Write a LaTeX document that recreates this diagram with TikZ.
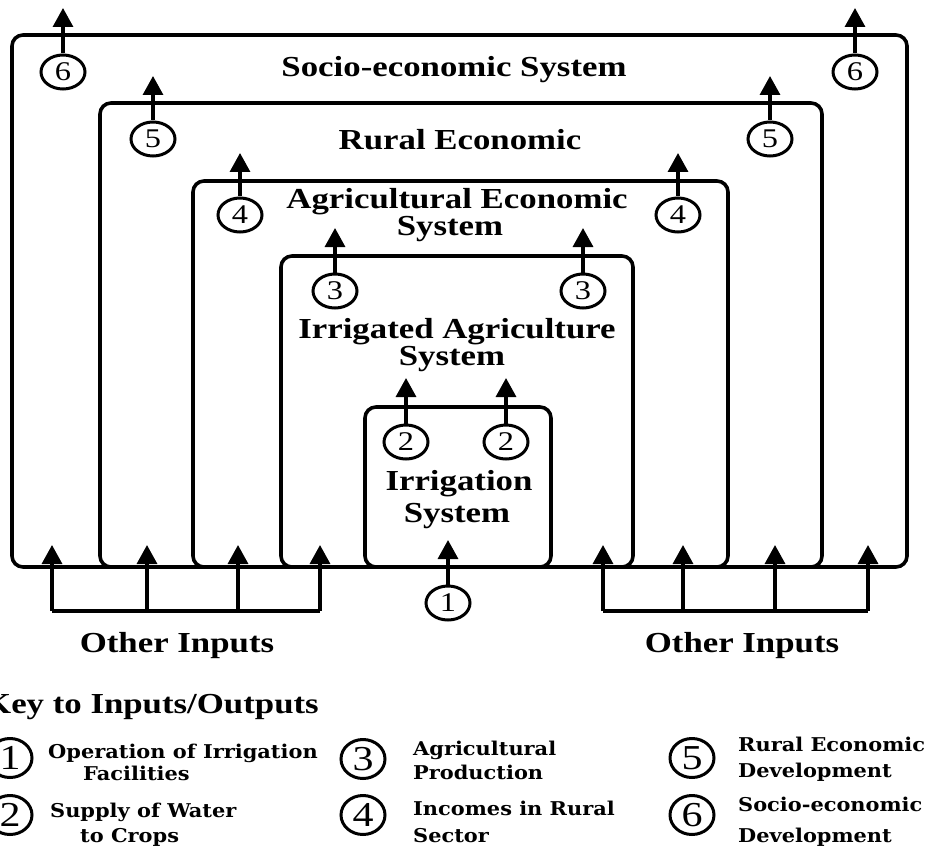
\documentclass[tikz,border=0pt]{standalone}
\usepackage{fontspec}
\setmainfont{Liberation Serif}
\newfontfamily\labfont[FakeStretch=1.2]{Liberation Serif}
\newfontfamily\keyfont[FakeStretch=1.1]{DejaVu Serif}
\usetikzlibrary{arrows.meta,shapes.geometric}

\begin{document}
\begin{tikzpicture}[x=1pt,y=-1pt,
  sysbox/.style={line width=3.6pt, rounded corners=11pt},
  numcirc/.style={ellipse, draw, line width=3pt, minimum width=44pt, minimum height=34pt,
    inner sep=0pt, font=\labfont\fontsize{27}{27}\selectfont},
  keycirc/.style={ellipse, draw, line width=3pt, minimum width=44pt, minimum height=39pt,
    inner sep=0pt, font=\labfont\fontsize{35}{35}\selectfont},
  flow/.style={line width=3.3pt, -{Triangle[width=20pt,length=19pt]}},
  feed/.style={line width=3.3pt, line cap=square},
  lab/.style={anchor=base, inner sep=0pt, font=\labfont\bfseries\fontsize{29}{34}\selectfont},
  keytext/.style={anchor=base west, inner sep=0pt, font=\keyfont\bfseries\fontsize{19}{22}\selectfont},
]
\useasboundingbox (0,0) rectangle (936,850);

% nested systems, all sharing the bottom edge
\draw[sysbox] (12,567) rectangle (907,35);
\draw[sysbox] (100,567) rectangle (822,103);
\draw[sysbox] (193,567) rectangle (728,181);
\draw[sysbox] (281,567) rectangle (633,256);
\draw[sysbox] (365,567) rectangle (551,407);

% outputs of each system
\foreach \n/\xa/\xb/\yc/\yt in {6/63/855/72/8, 5/153/770/139/76, 4/240/678/215/153,
                                 3/335/583/291/228, 2/406/506/442/378}{
  \node[numcirc] (o\n a) at (\xa,\yc) {\n};
  \node[numcirc] (o\n b) at (\xb,\yc) {\n};
  \coordinate (t\n a) at (\xa,\yt);
  \coordinate (t\n b) at (\xb,\yt);
  \draw[flow] (o\n a) -- (t\n a);
  \draw[flow] (o\n b) -- (t\n b);
}

% system labels
\node[lab] (l6)  at (454,77)  {Socio-economic System};
\node[lab] (l5)  at (460,150) {Rural Economic};
\node[lab] (l4a) at (457,209) {Agricultural Economic};
\node[lab] (l4b) at (450,236) {System};
\node[lab] (l3a) at (457,338) {Irrigated Agriculture};
\node[lab] (l3b) at (452,365) {System};
\node[lab] (l2a) at (459,490) {Irrigation};
\node[lab] (l2b) at (457,522) {System};

% input 1 to the irrigation system
\node[numcirc] (i1) at (448,603) {1};
\coordinate (ti1) at (448,540);
\draw[flow] (i1) -- (ti1);

% other inputs, left and right
\foreach \s/\xs in {L/{52,147,238,320}, R/{603,683,775,868}}{
  \foreach \x [count=\k] in \xs {
    \coordinate (b\s\k) at (\x,611);
    \coordinate (u\s\k) at (\x,545);
    \draw[flow] (b\s\k) -- (u\s\k);
  }
  \draw[feed] (b\s1) -- (b\s4);
}
\node[lab] (oiL) at (177,652) {Other Inputs};
\node[lab] (oiR) at (742,652) {Other Inputs};

% key
\node[lab, anchor=base west] (keyt) at (-16,713) {Key to Inputs/Outputs};
\node[keycirc] (k1) at (10,758)  {1};
\node[keycirc] (k2) at (10,815)  {2};
\node[keycirc] (k3) at (363,759) {3};
\node[keycirc] (k4) at (363,815) {4};
\node[keycirc] (k5) at (692,758) {5};
\node[keycirc] (k6) at (692,815) {6};

\node[keytext] (k1a) at (48,758)  {Operation of Irrigation};
\node[keytext] (k1b) at (83,780)  {Facilities};
\node[keytext] (k2a) at (50,817)  {Supply of Water};
\node[keytext] (k2b) at (80,842)  {to Crops};
\node[keytext] (k3a) at (413,755) {Agricultural};
\node[keytext] (k3b) at (413,779) {Production};
\node[keytext] (k4a) at (413,815) {Incomes in Rural};
\node[keytext] (k4b) at (413,842) {Sector};
\node[keytext] (k5a) at (738,751) {Rural Economic};
\node[keytext] (k5b) at (738,777) {Development};
\node[keytext] (k6a) at (738,811) {Socio-economic};
\node[keytext] (k6b) at (738,842) {Development};
\end{tikzpicture}
\end{document}
